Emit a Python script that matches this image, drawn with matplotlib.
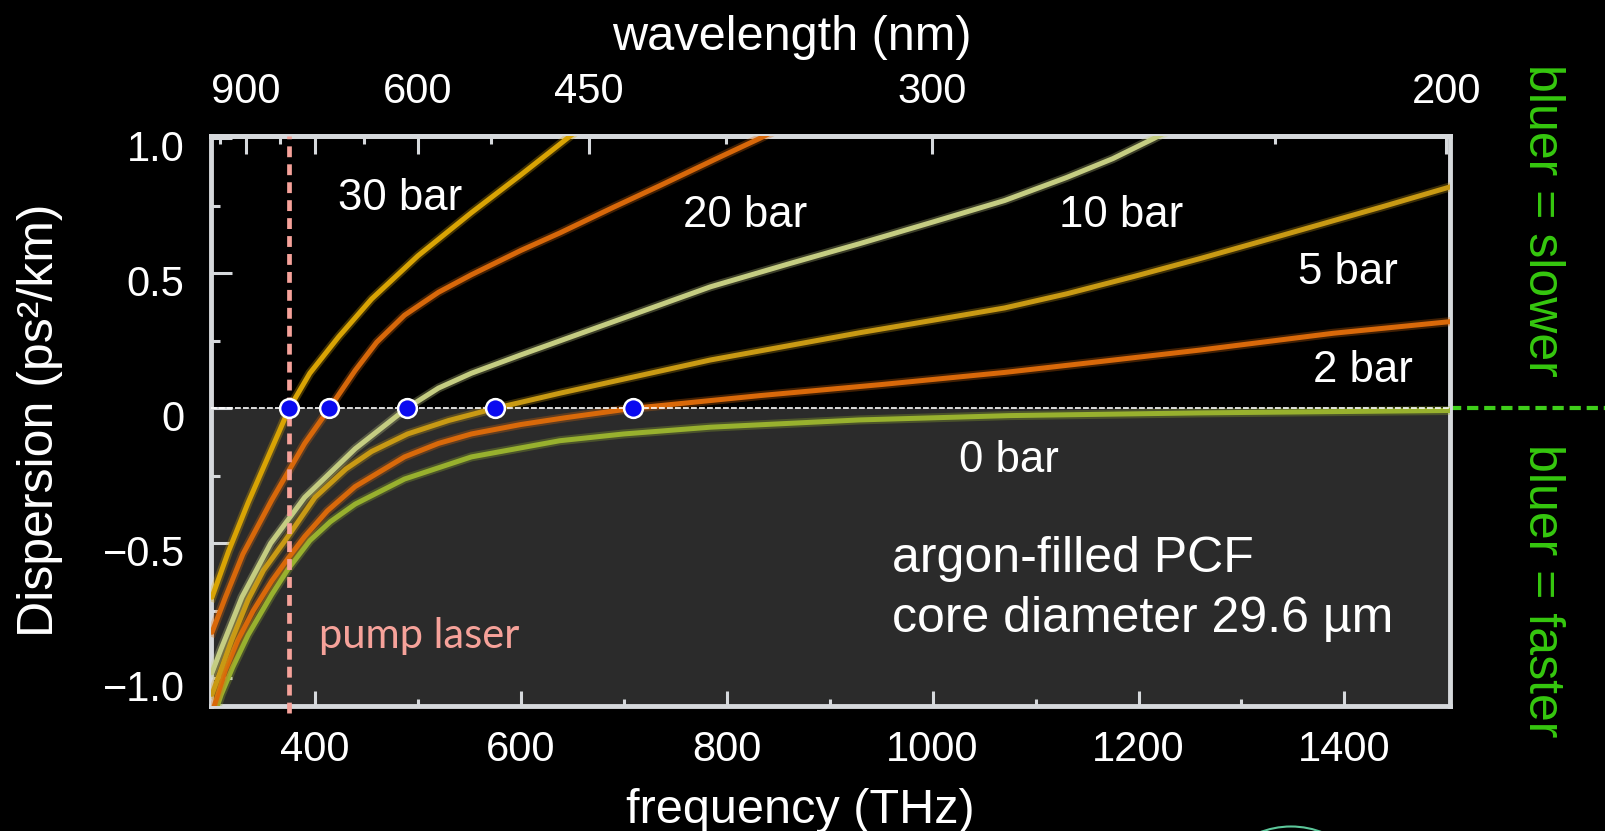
import numpy as np
import matplotlib
matplotlib.use("Agg")
import matplotlib.pyplot as plt
from matplotlib.patches import Ellipse
from matplotlib.transforms import ScaledTranslation

plt.rcParams['font.family'] = ['Liberation Sans', 'DejaVu Sans']

# dispersion curves (frequency THz, dispersion ps^2/km)
freq_30 = [300, 316, 335, 355, 365, 375, 395, 423, 455, 500, 552, 600, 645, 660]
disp_30 = [-0.70, -0.53, -0.35, -0.175, -0.088, 0.0, 0.13, 0.265, 0.405, 0.565, 0.725, 0.865, 1.0, 1.045]

freq_20 = [300, 313, 330, 358, 390, 414, 439, 460, 487, 520, 552, 600, 638, 690, 735, 790, 832, 845]
disp_20 = [-0.83, -0.70, -0.54, -0.34, -0.13, 0.0, 0.14, 0.245, 0.345, 0.43, 0.495, 0.585, 0.65, 0.745,
           0.825, 0.925, 1.0, 1.025]

freq_10 = [300, 309, 329, 357, 390, 439, 489, 520, 552, 600, 638, 784, 860, 929, 1000, 1070, 1130, 1175,
           1215, 1225]
disp_10 = [-0.98, -0.89, -0.70, -0.50, -0.33, -0.15, 0.0, 0.075, 0.13, 0.198, 0.25, 0.45, 0.535, 0.61,
           0.69, 0.77, 0.855, 0.925, 1.0, 1.02]

freq_5 = [300, 319, 335, 350, 371, 400, 430, 455, 490, 530, 575, 638, 784, 929, 1000, 1070, 1130, 1195,
          1260, 1324, 1437, 1505]
disp_5 = [-1.06, -0.86, -0.71, -0.60, -0.49, -0.33, -0.225, -0.16, -0.095, -0.045, 0.0, 0.056, 0.179,
          0.28, 0.326, 0.372, 0.424, 0.488, 0.555, 0.624, 0.747, 0.823]

freq_2 = [300, 313, 325, 340, 358, 374, 390, 412, 439, 487, 520, 552, 600, 643, 709, 832, 950, 1070,
          1160, 1260, 1389, 1505]
disp_2 = [-1.13, -0.97, -0.86, -0.75, -0.64, -0.555, -0.475, -0.38, -0.29, -0.18, -0.13, -0.095, -0.06,
          -0.035, 0.0, 0.047, 0.088, 0.133, 0.172, 0.216, 0.278, 0.322]

freq_0 = [300, 309, 320, 335, 358, 374, 395, 415, 439, 487, 552, 638, 700, 784, 929, 1075, 1260, 1505]
disp_0 = [-1.16, -1.06, -0.96, -0.84, -0.69, -0.595, -0.49, -0.42, -0.355, -0.262, -0.18, -0.12, -0.095,
          -0.07, -0.043, -0.027, -0.017, -0.008]

# zero dispersion points and pump
zero_freq = [375, 414, 489, 575, 709]
pump_freq = 375

freq_ticks = [400, 600, 800, 1000, 1200, 1400]
freq_minor = [500, 700, 900, 1100, 1300]
disp_ticks = [-1.0, -0.5, 0, 0.5, 1.0]
disp_labels = ['\u22121.0', '\u22120.5', '0', '0.5', '1.0']
disp_minor = [-0.75, -0.25, 0.25, 0.75]
wl_ticks = [900, 750, 600, 450, 300, 200]
wl_labels = ['900', '', '600', '450', '300', '200']
wl_minor = [975, 820, 670, 525, 375, 225]

W, H = 1606, 831


def px(x, y):
    # pixel position -> figure fraction
    return x / W, 1 - y / H


def thz_nm(x):
    x = np.clip(np.asarray(x, dtype=float), 1e-6, None)
    return 299792.458 / x


fig = plt.figure(figsize=(W / 100, H / 100), dpi=100, facecolor='black')
ax = fig.add_axes([211 / W, 1 - 706 / H, (1450 - 211) / W, (706 - 136) / H])
ax.set_facecolor('black')
ax.set_xlim(299, 1502.6)
ax.set_ylim(-1.103, 1.009)
ax.axhspan(-2, 0, color='#2b2b2b', lw=0, zorder=0)

curves = [
    (freq_0, disp_0, '#98b12e'),
    (freq_2, disp_2, '#d9690a'),
    (freq_5, disp_5, '#c99a14'),
    (freq_10, disp_10, '#c5cd82'),
    (freq_20, disp_20, '#d8680a'),
    (freq_30, disp_30, '#d9a404'),
]
for f, d, c in curves:
    # soft halo + line, the original looks slightly blurred
    ax.plot(f, d, color=c, lw=6.5, alpha=0.3, solid_joinstyle='round', zorder=3)
    ax.plot(f, d, color=c, lw=3.6, solid_joinstyle='round', solid_capstyle='round', zorder=3)

ax.axhline(0, color='white', lw=1.2, dashes=(3.5, 1.3), zorder=3.5)
ax.plot([1502.6, 1670], [0, 0], color='#3fcf1a', lw=3, dashes=(2.7, 1.4), clip_on=False)
ax.axvline(pump_freq, ymin=-0.012, ymax=1, color='#f6a29a', lw=3.4, dashes=(2.3, 1.5),
           clip_on=False, zorder=4)
ax.plot(zero_freq, np.zeros(len(zero_freq)), 'o', ms=13.5, mfc='#0a0af0', mec='white',
        mew=1.8, zorder=5)

# ticks and spines
tick_col = '#d6d9dc'
for s in ax.spines.values():
    s.set_color(tick_col)
    s.set_linewidth(3.5)
ax.set_xticks(freq_ticks)
ax.set_xticks(freq_minor, minor=True)
ax.set_yticks(disp_ticks, labels=disp_labels)
ax.set_yticks(disp_minor, minor=True)
ax.tick_params(axis='x', which='major', direction='in', length=11, width=2.2, color=tick_col,
               labelcolor='white', labelsize=30, pad=17)
ax.tick_params(axis='x', which='minor', direction='in', length=5, width=2.2, color=tick_col)
ax.tick_params(axis='y', which='major', direction='in', length=15, width=2.2, color=tick_col,
               labelcolor='white', labelsize=30, pad=19)
ax.tick_params(axis='y', which='minor', direction='in', length=6.5, width=2.2, color=tick_col)
ax.tick_params(top=False, right=False, which='both')

offset = ScaledTranslation(0, -5 / 72, fig.dpi_scale_trans)
for lab in ax.get_yticklabels():
    lab.set_transform(lab.get_transform() + offset)

sec = ax.secondary_xaxis('top', functions=(thz_nm, thz_nm))
sec.set_xticks(wl_ticks, labels=wl_labels)
sec.set_xticks(wl_minor, minor=True)
sec.tick_params(which='major', direction='in', length=13, width=2.2, color=tick_col,
                labelcolor='white', labelsize=30, pad=17)
sec.tick_params(which='minor', direction='in', length=6, width=2.2, color=tick_col)
sec.spines['top'].set_color(tick_col)
sec.spines['top'].set_linewidth(3.5)

# axis titles
fig.text(*px(792, 50), 'wavelength (nm)', ha='center', va='baseline', fontsize=35, color='white')
fig.text(*px(800, 823), 'frequency (THz)', ha='center', va='baseline', fontsize=35, color='white')
fig.text(*px(40, 420), 'Dispersion (ps\u00b2/km)', rotation=90, ha='center', va='center',
         fontsize=36, color='white')

# curve labels
for x, y, s in [(338, 210, '30 bar'), (683, 227, '20 bar'), (1059, 227, '10 bar'),
                (1298, 284, '5 bar'), (1313, 382, '2 bar'), (959, 472, '0 bar')]:
    fig.text(*px(x, y), s, ha='left', va='baseline', fontsize=31.5, color='white')

fig.text(*px(892, 572), 'argon-filled PCF', ha='left', va='baseline', fontsize=36, color='white')
fig.text(*px(892, 632), 'core diameter 29.6 \u00b5m', ha='left', va='baseline', fontsize=36,
         color='white')
fig.text(*px(319, 648), 'pump laser', ha='left', va='baseline', fontsize=30, color='#f6a29a',
         family=['Lato', 'DejaVu Sans'])

fig.text(*px(1542, 220), 'bluer = slower', rotation=-90, ha='center', va='center',
         fontsize=36, color='#36c80f')
fig.text(*px(1542, 591), 'bluer = faster', rotation=-90, ha='center', va='center',
         fontsize=36, color='#36c80f')

# bit of a circle peeking in at the bottom
fig.add_artist(Ellipse(px(1291, 913), 2 * 86.5 / W, 2 * 86.5 / H, transform=fig.transFigure,
                       fill=False, edgecolor='#5cc79a', lw=1.5))

fig.savefig('out.png', dpi=100, facecolor='black')
